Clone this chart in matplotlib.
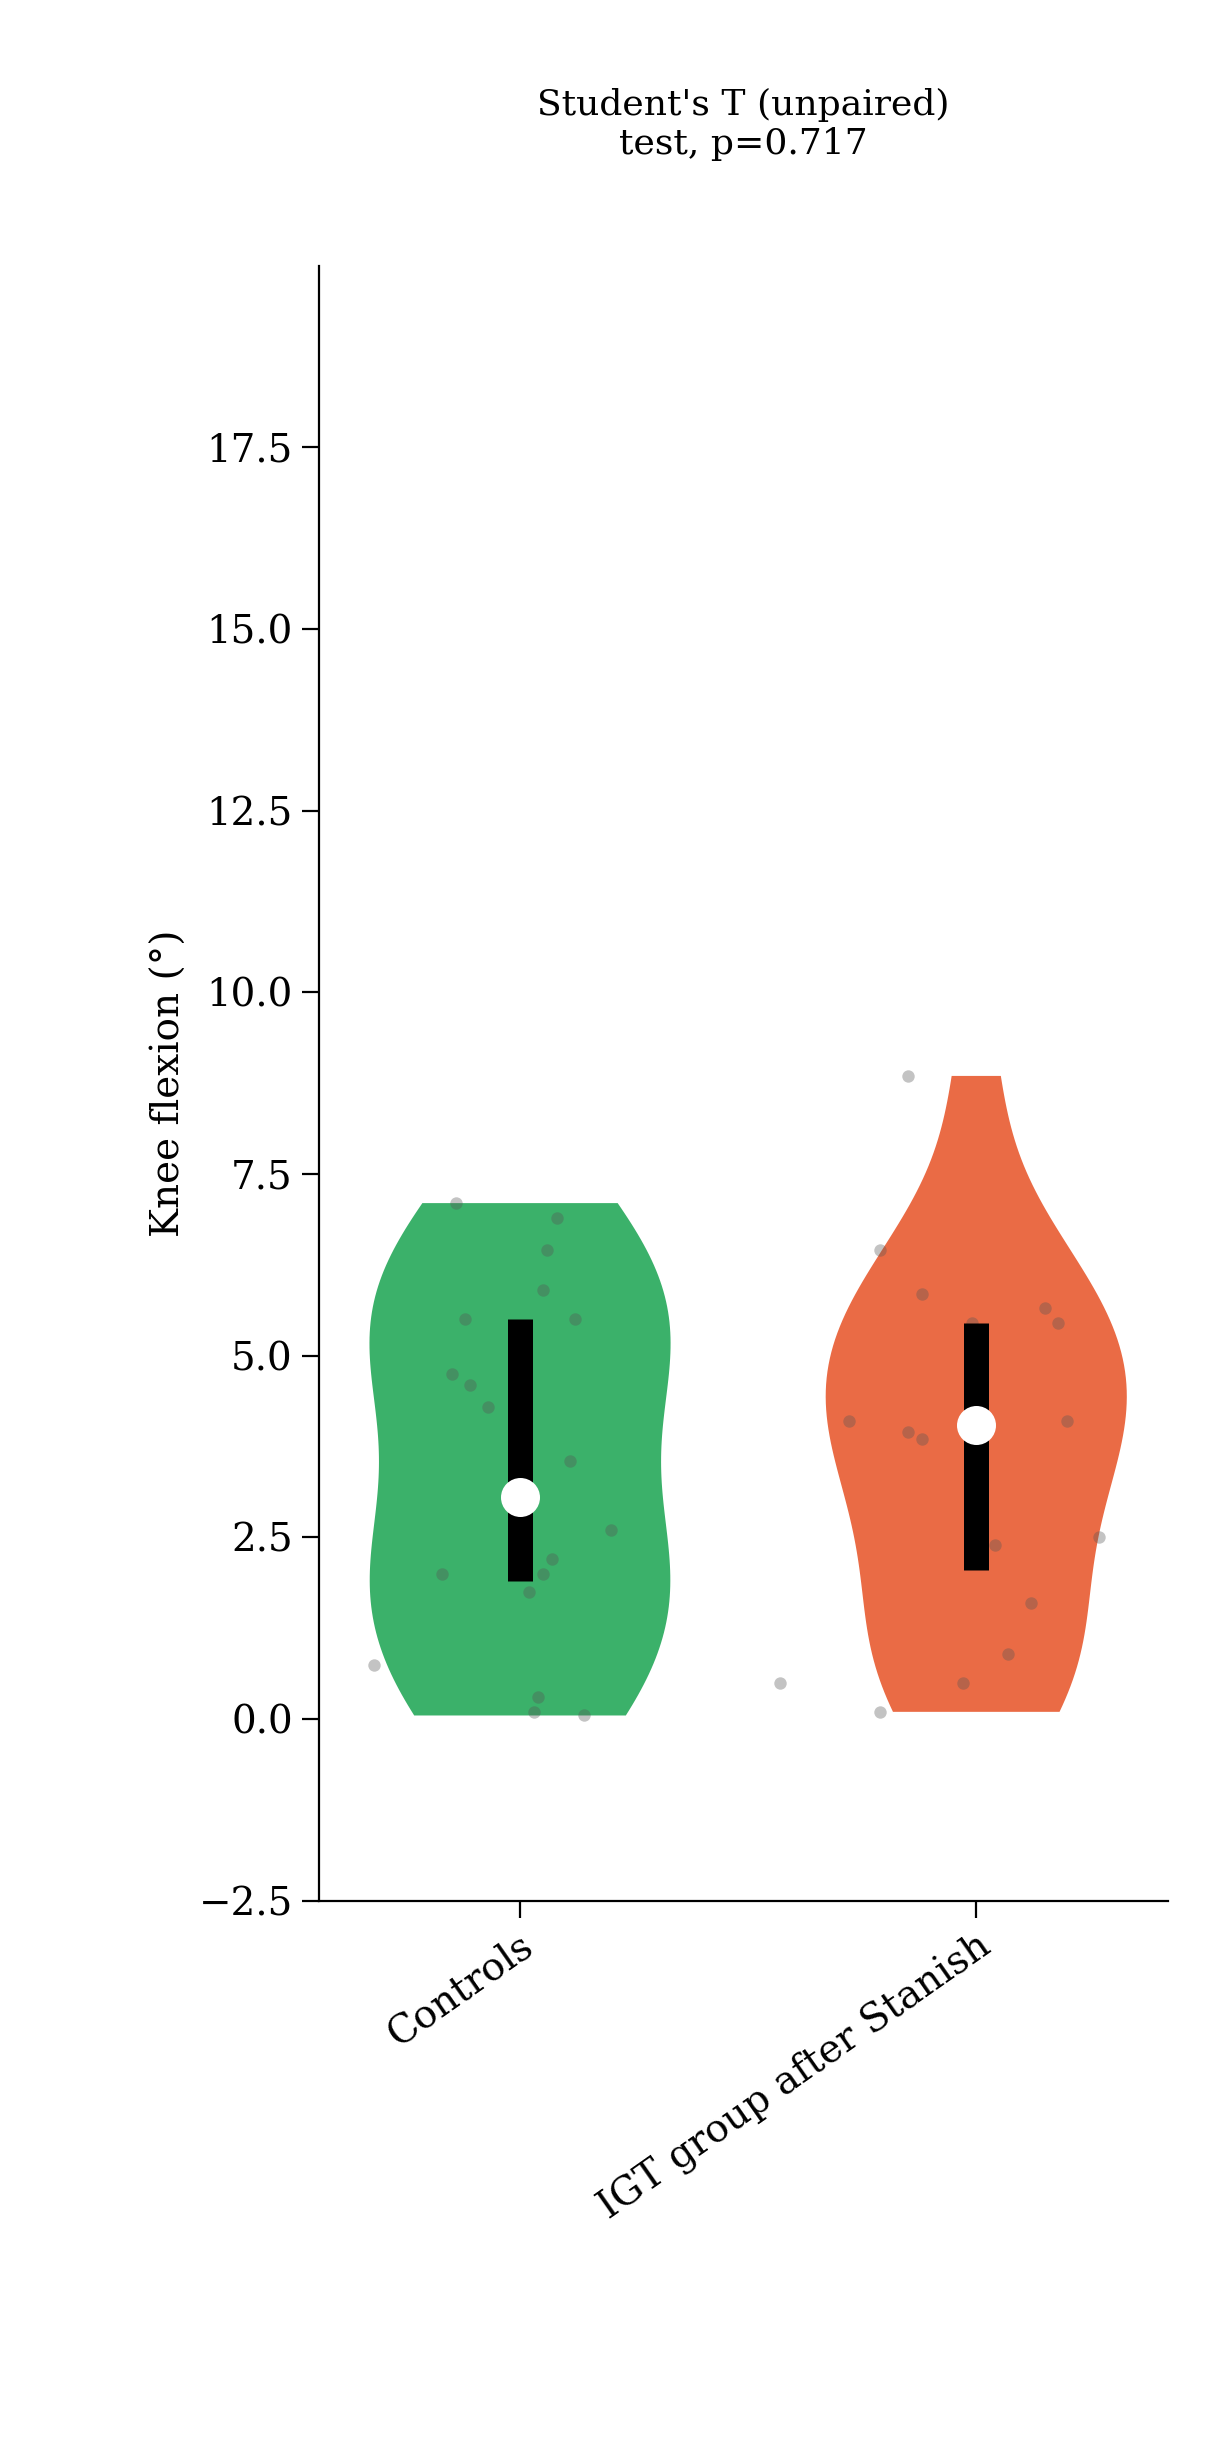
import numpy as np
import matplotlib.pyplot as plt

plt.rcParams['font.family'] = 'DejaVu Serif'

groups = ['Controls', 'IGT group after Stanish']
colors = ['#3bb16a', '#ea6b45']

ctrl_x = [-0.32, -0.17, -0.15, -0.11, -0.12, -0.14, -0.07, 0.08, 0.05, 0.06, 0.02, 0.03, 0.04, 0.05, 0.07, 0.11, 0.12, 0.14, 0.2]
ctrl_y = [0.75, 2.0, 4.75, 4.6, 5.5, 7.1, 4.3, 6.9, 5.9, 6.45, 1.75, 0.1, 0.3, 2.0, 2.2, 3.55, 5.5, 0.05, 2.6]
igt_x = [-0.43, -0.21, -0.21, -0.28, -0.15, -0.12, -0.12, -0.01, 0.02, 0.04, 0.12, 0.07, -0.03, 0.15, 0.18, 0.2, 0.27, -0.15]
igt_y = [0.5, 0.1, 6.45, 4.1, 3.95, 3.85, 5.85, 5.45, 4.1, 2.4, 1.6, 0.9, 0.5, 5.65, 5.45, 4.1, 2.5, 8.85]

bar_low = [1.9, 2.05]
bar_high = [5.5, 5.45]
center = [3.05, 4.05]

fig = plt.figure(figsize=(6.07, 12.295), dpi=200)
ax = fig.add_axes([0.263, 0.227, 0.699, 0.665])

for i, ys in enumerate([ctrl_y, igt_y]):
    v = ax.violinplot([ys], positions=[i], widths=0.66, showextrema=False, bw_method=0.55)
    for b in v['bodies']:
        b.set_facecolor(colors[i])
        b.set_alpha(1)
        b.set_edgecolor('none')
    ax.vlines(i, bar_low[i], bar_high[i], color='black', lw=9, zorder=3)
    ax.scatter([i], [center[i]], s=170, color='white', zorder=4)

ax.scatter(ctrl_x, ctrl_y, s=20, color='#555555', alpha=0.35, zorder=2, lw=0)
ax.scatter(1 + np.array(igt_x), igt_y, s=20, color='#555555', alpha=0.35, zorder=2, lw=0)

ax.set_xlim(-0.44, 1.42)
ax.set_ylim(-2.5, 20)
ax.set_yticks(np.arange(-2.5, 17.6, 2.5))
ax.set_xticks([0, 1])
ax.set_xticklabels(groups, rotation=35, ha='right', rotation_mode='anchor', fontsize=14)
ax.tick_params(axis='y', labelsize=14, length=6)
ax.tick_params(axis='x', length=6)
ax.set_ylabel('Knee flexion (°)', fontsize=14)
ax.spines['top'].set_visible(False)
ax.spines['right'].set_visible(False)
ax.set_title("Student's T (unpaired)\ntest, p=0.717", fontsize=13, pad=40)

plt.savefig('out.png', dpi=200)
